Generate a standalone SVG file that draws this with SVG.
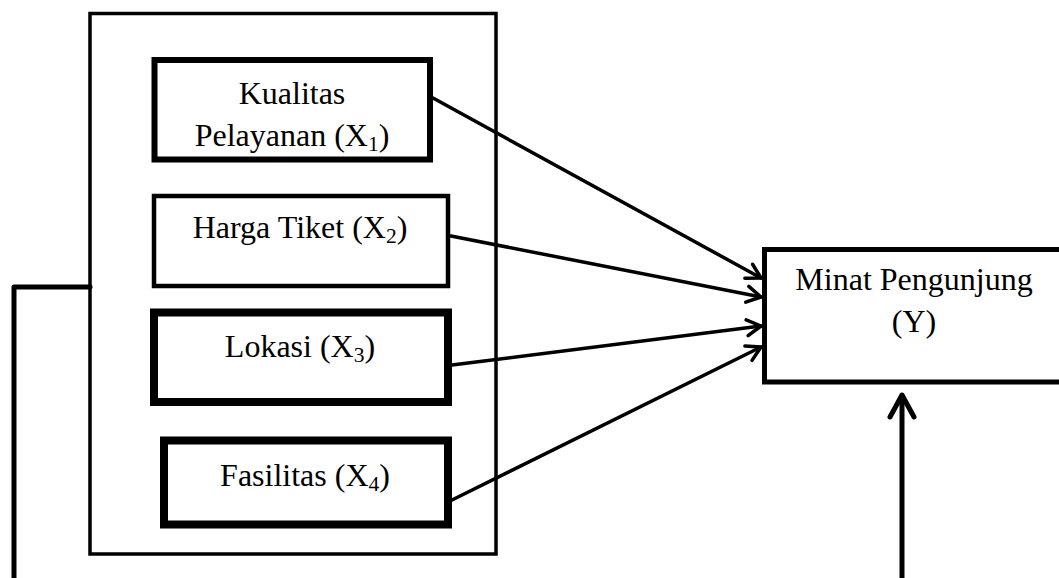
<svg xmlns="http://www.w3.org/2000/svg" width="1059" height="578" viewBox="0 0 1059 578">
  <style>
    .box { fill: #ffffff; stroke: #000000; }
    .lbl { font-family: "Liberation Serif", "Times New Roman", serif; font-size: 32px; fill: #000000; text-anchor: middle; }
    .sub { font-size: 21.5px; }
    .conn { fill: none; stroke: #000000; stroke-linecap: round; stroke-linejoin: round; }
  </style>
  <defs>
    <marker id="arr" markerUnits="userSpaceOnUse" markerWidth="24" markerHeight="24" refX="18" refY="10" orient="auto" overflow="visible">
      <path d="M4,2 L18,10 L4,18" fill="none" stroke="#000000" stroke-width="3.5" stroke-linecap="round" stroke-linejoin="round"/>
    </marker>
  </defs>
  <rect width="1059" height="578" fill="#ffffff"/>

  <g id="group-x">
    <rect class="box" x="90" y="13.5" width="406" height="540.5" stroke-width="3.5"/>
  </g>

  <g id="kualitas">
    <rect class="box" x="154.5" y="60" width="275.5" height="99.5" stroke-width="6"/>
    <text class="lbl" x="292" y="104">Kualitas</text>
    <text class="lbl" x="292" y="146">Pelayanan (X<tspan class="sub" dy="5">1</tspan><tspan dy="-5">)</tspan></text>
  </g>

  <g id="harga">
    <rect class="box" x="154" y="196" width="294" height="90" stroke-width="4.5"/>
    <text class="lbl" x="300" y="238">Harga Tiket (X<tspan class="sub" dy="5">2</tspan><tspan dy="-5">)</tspan></text>
  </g>

  <g id="lokasi">
    <rect class="box" x="154" y="312.5" width="294" height="89.5" stroke-width="8"/>
    <text class="lbl" x="300" y="357">Lokasi (X<tspan class="sub" dy="5">3</tspan><tspan dy="-5">)</tspan></text>
  </g>

  <g id="fasilitas">
    <rect class="box" x="164" y="440.5" width="284" height="84" stroke-width="8"/>
    <text class="lbl" x="305" y="486">Fasilitas (X<tspan class="sub" dy="5">4</tspan><tspan dy="-5">)</tspan></text>
  </g>

  <g id="minat">
    <rect class="box" x="764.5" y="249.5" width="299" height="132.5" stroke-width="5"/>
    <text class="lbl" x="914" y="290">Minat Pengunjung</text>
    <text class="lbl" x="914" y="332">(Y)</text>
  </g>

  <g id="connectors">
    <line class="conn" x1="433" y1="98" x2="761" y2="278" stroke-width="3.5" marker-end="url(#arr)"/>
    <line class="conn" x1="451" y1="236" x2="761" y2="297" stroke-width="3.5" marker-end="url(#arr)"/>
    <line class="conn" x1="452" y1="365" x2="761" y2="326" stroke-width="3.5" marker-end="url(#arr)"/>
    <line class="conn" x1="452" y1="500" x2="761" y2="347" stroke-width="3.5" marker-end="url(#arr)"/>
    <polyline class="conn" points="90,287 14,287 14,582" stroke-width="5" stroke-linecap="butt" stroke-linejoin="miter"/>
    <line class="conn" x1="902" y1="582" x2="902" y2="396" stroke-width="5" stroke-linecap="butt"/>
    <polyline class="conn" points="890,417 902,395 914,417" stroke-width="5"/>
  </g>
</svg>
